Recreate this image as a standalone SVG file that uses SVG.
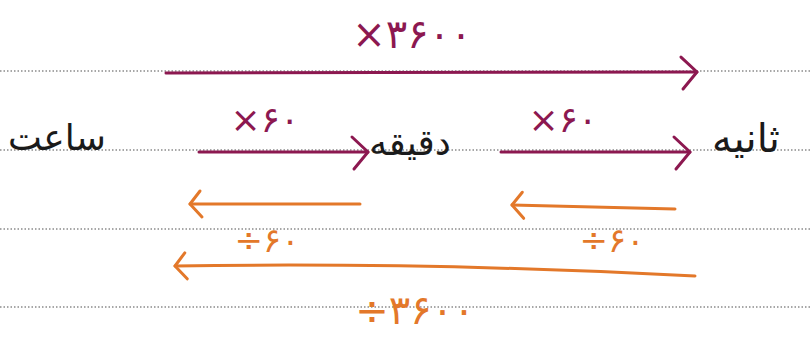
<svg xmlns="http://www.w3.org/2000/svg" width="810" height="348" viewBox="0 0 810 348">
<style>
.rule{stroke:#8a8a8a;stroke-width:1.3;stroke-dasharray:1.5 2;fill:none}
.mag{stroke:#8c1850;stroke-width:3;fill:none;stroke-linecap:round}
.org{stroke:#e3782a;stroke-width:3;fill:none;stroke-linecap:round}
.word{font-family:"DejaVu Sans",sans-serif;font-size:36px;fill:#1a1a1a;text-anchor:middle}
.lm{font-family:"DejaVu Sans",sans-serif;font-size:36px;fill:#8c1850;text-anchor:middle}
.lo{font-family:"DejaVu Sans",sans-serif;font-size:34px;fill:#e3782a;text-anchor:middle}
</style>
<defs>
<marker id="hm" markerUnits="userSpaceOnUse" markerWidth="40" markerHeight="40" viewBox="-30 -20 40 40" refX="0" refY="0" orient="auto">
<path d="M-16,-15 L0,0 L-14,17" fill="none" stroke="#8c1850" stroke-width="3" stroke-linecap="round" stroke-linejoin="round"/>
</marker>
<marker id="ho" markerUnits="userSpaceOnUse" markerWidth="40" markerHeight="40" viewBox="-30 -20 40 40" refX="0" refY="0" orient="auto">
<path d="M-12,-13 L0,0 L-10,13" fill="none" stroke="#e3782a" stroke-width="3" stroke-linecap="round" stroke-linejoin="round"/>
</marker>
</defs>
<rect width="810" height="348" fill="#ffffff"/>
<g id="rules">
<line class="rule" x1="0" y1="71" x2="810" y2="71"/>
<line class="rule" x1="0" y1="150" x2="810" y2="150"/>
<line class="rule" x1="0" y1="229" x2="810" y2="229"/>
<line class="rule" x1="0" y1="307" x2="810" y2="307"/>
</g>
<g id="connectors">
<line class="mag" x1="166" y1="73" x2="697" y2="72" marker-end="url(#hm)"/>
<text class="lm" x="412" y="48" style="font-size:40px">×۳۶۰۰</text>
<line class="mag" x1="199" y1="152" x2="368" y2="152" marker-end="url(#hm)"/>
<text class="lm" x="265" y="132">×۶۰</text>
<line class="mag" x1="501" y1="152" x2="690" y2="152" marker-end="url(#hm)"/>
<text class="lm" x="563" y="132">×۶۰</text>
<line class="org" x1="360" y1="204" x2="190" y2="204" marker-end="url(#ho)"/>
<text class="lo" x="267" y="252">÷۶۰</text>
<line class="org" x1="675" y1="209" x2="512" y2="205" marker-end="url(#ho)"/>
<text class="lo" x="612" y="252">÷۶۰</text>
<path class="org" d="M695,276 Q430,262 175,266" marker-end="url(#ho)"/>
<text class="lo" x="415" y="324" style="font-size:40px">÷۳۶۰۰</text>
</g>
<g id="node-hour"><text class="word" x="57" y="150">ساعت</text></g>
<g id="node-minute"><text class="word" x="410" y="155">دقیقه</text></g>
<g id="node-second"><text class="word" x="746" y="152" style="font-size:40px">ثانیه</text></g>
</svg>
